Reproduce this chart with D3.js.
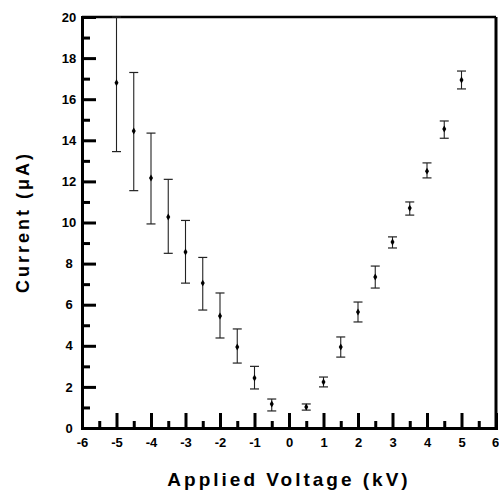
<!DOCTYPE html>
<html>
<head>
<meta charset="utf-8">
<script src="https://cdn.jsdelivr.net/npm/d3@7"></script>
<style>
  html, body { margin: 0; padding: 0; background: #fff; }
  svg { display: block; }
</style>
</head>
<body>
<div id="chart"></div>
<script>
// Applied voltage (kV)
const voltage = [-5, -4.5, -4, -3.5, -3, -2.5, -2, -1.5, -1, -0.5, 0.5, 1, 1.5, 2, 2.5, 3, 3.5, 4, 4.5, 5];
// Mean current (uA)
const current = [16.8, 14.45, 12.17, 10.27, 8.56, 7.05, 5.45, 3.94, 2.43, 1.17, 1.02, 2.24, 3.94, 5.64, 7.35, 9.05, 10.7, 12.5, 14.55, 16.93];
// Error bar bounds
const errLow  = [13.45, 11.55, 9.93, 8.5, 7.05, 5.74, 4.38, 3.16, 1.9, 0.83, 0.87, 2.0, 3.45, 5.16, 6.81, 8.76, 10.36, 12.17, 14.1, 16.5];
const errHigh = [20.0, 17.3, 14.35, 12.1, 10.1, 8.3, 6.57, 4.82, 3.0, 1.41, 1.17, 2.48, 4.43, 6.13, 7.88, 9.3, 11.0, 12.9, 14.94, 17.37];

const xTicks = [-6, -5, -4, -3, -2, -1, 0, 1, 2, 3, 4, 5, 6];
const yTicks = [0, 2, 4, 6, 8, 10, 12, 14, 16, 18, 20];

const W = 499, H = 491;
const margin = { top: 17, right: 3, bottom: 63, left: 82 };
const width = W - margin.left - margin.right;
const height = H - margin.top - margin.bottom;
const font = 'Arial, "Liberation Sans", Helvetica, sans-serif';

const svg = d3.select('#chart').append('svg')
  .attr('width', W)
  .attr('height', H);

const g = svg.append('g')
  .attr('transform', `translate(${margin.left},${margin.top})`);

const x = d3.scaleLinear().domain([-6, 6]).range([0, width]);
const y = d3.scaleLinear().domain([0, 20]).range([height, 0]);

// Frame (top + right)
g.append('line')
  .attr('x1', 0).attr('x2', width).attr('y1', 0).attr('y2', 0)
  .style('stroke', '#000').style('stroke-width', 2.5);
g.append('line')
  .attr('x1', width).attr('x2', width).attr('y1', 0).attr('y2', height)
  .style('stroke', '#000').style('stroke-width', 3);

// Bottom axis, ticks pointing inward
const xAxis = g.append('g')
  .attr('transform', `translate(0,${height})`)
  .call(d3.axisBottom(x).tickValues(xTicks).tickSize(-15).tickPadding(15).tickFormat(d => String(d)));

g.append('g')
  .attr('transform', `translate(0,${height})`)
  .call(d3.axisBottom(x).tickValues(d3.range(-5.5, 6, 1)).tickSize(-7).tickFormat(''))
  .select('.domain').remove();

// Left axis
const yAxis = g.append('g')
  .call(d3.axisLeft(y).tickValues(yTicks).tickSize(-14).tickFormat(d => String(d)));

g.append('g')
  .call(d3.axisLeft(y).tickValues(d3.range(1, 20, 2)).tickSize(-8).tickFormat(''))
  .select('.domain').remove();

g.selectAll('.domain').style('stroke', '#000').style('stroke-width', 3);
g.selectAll('.tick line').style('stroke', '#000').style('stroke-width', 3);
g.selectAll('.tick text')
  .style('font-family', font)
  .style('font-size', '13px')
  .style('font-weight', 'bold')
  .style('fill', '#000');
xAxis.selectAll('.tick text').attr('dy', '0.3em');
xAxis.selectAll('.tick text').filter(d => d === 6).attr('dx', -1);
yAxis.selectAll('.tick text').attr('x', -13).attr('text-anchor', 'middle');

// Error bars
const capW = 4.5;
voltage.forEach((v, i) => {
  const cx = x(v);
  g.append('line')
    .attr('x1', cx).attr('x2', cx)
    .attr('y1', y(errLow[i])).attr('y2', y(errHigh[i]))
    .style('stroke', '#222').style('stroke-width', 1.1);
  [errLow[i], errHigh[i]].forEach(e => {
    g.append('line')
      .attr('x1', cx - capW).attr('x2', cx + capW)
      .attr('y1', y(e)).attr('y2', y(e))
      .style('stroke', '#222').style('stroke-width', 1.2);
  });
});

// Points
g.selectAll('.pt')
  .data(voltage)
  .enter()
  .append('path')
  .attr('class', 'pt')
  .attr('d', d3.symbol().type(d3.symbolDiamond).size(14))
  .attr('transform', (d, i) => `translate(${x(d)},${y(current[i])})`)
  .style('fill', '#000');

// Axis titles
svg.append('text')
  .attr('x', 289)
  .attr('y', 486)
  .attr('text-anchor', 'middle')
  .style('font-family', font)
  .style('font-size', '19px')
  .style('font-weight', 'bold')
  .style('letter-spacing', '3px')
  .text('Applied Voltage (kV)');

svg.append('text')
  .attr('transform', 'translate(29,222) rotate(-90)')
  .attr('text-anchor', 'middle')
  .style('font-family', font)
  .style('font-size', '18px')
  .style('font-weight', 'bold')
  .style('letter-spacing', '3px')
  .text('Current (\u03BCA)');
</script>
</body>
</html>
